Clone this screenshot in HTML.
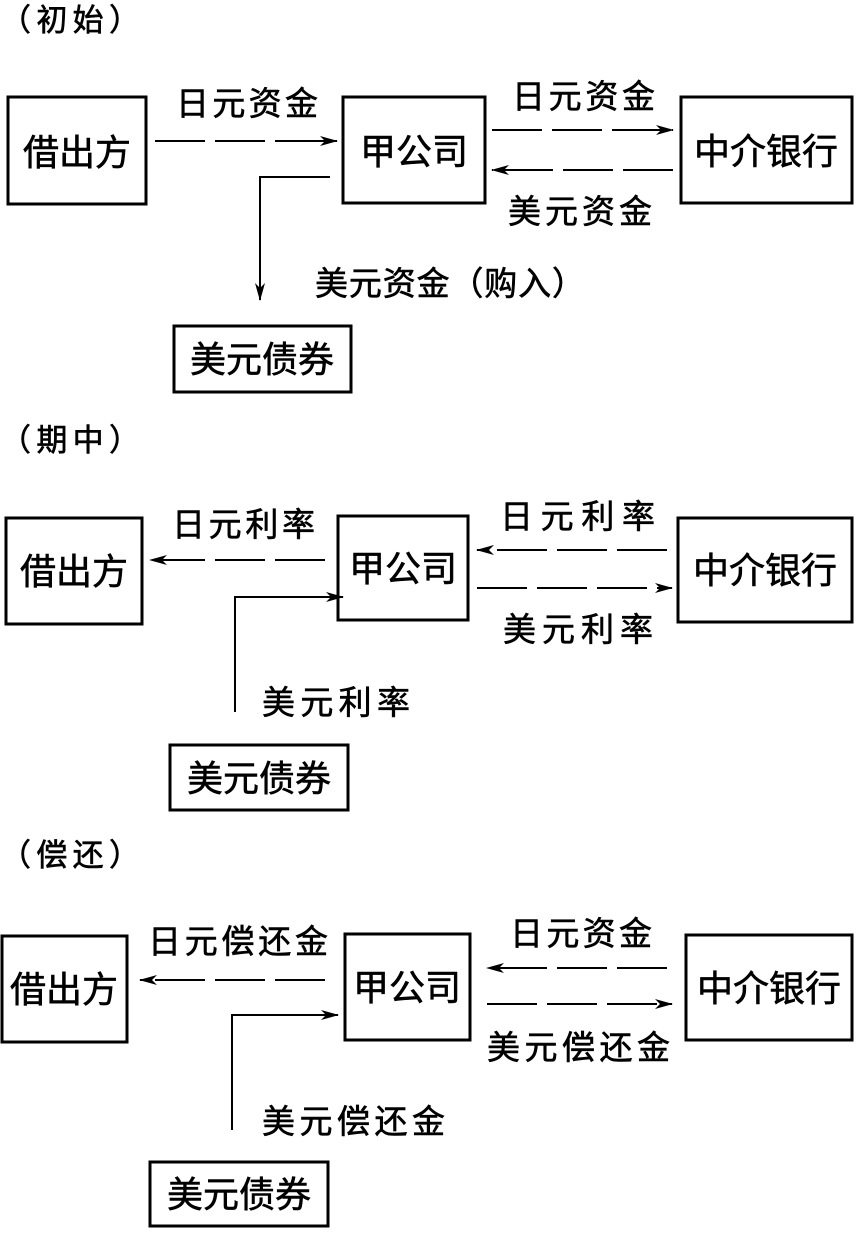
<!DOCTYPE html>
<html><head><meta charset="utf-8"><style>
html,body{margin:0;padding:0;background:#fff}
svg text{font-family:"Liberation Sans","Noto Sans CJK SC",sans-serif;fill:#000;stroke:#000;stroke-width:0.6}
</style></head><body>
<svg width="859" height="1231" viewBox="0 0 859 1231" xmlns="http://www.w3.org/2000/svg">
<defs><marker id="a" markerWidth="18" markerHeight="12" refX="17" refY="6" orient="auto" markerUnits="userSpaceOnUse"><path d="M0,1 L18,6 L0,11 L5,6 Z" fill="#000"/></marker></defs>
<g fill="none" stroke="#000" stroke-width="3">
<rect x="8" y="97" width="138" height="107"/>
<rect x="343" y="97" width="142" height="106"/>
<rect x="681" y="97" width="171" height="106"/>
<rect x="174" y="326" width="177" height="66"/>
<rect x="6" y="518" width="136" height="106"/>
<rect x="338" y="516" width="130" height="104"/>
<rect x="678" y="518" width="174" height="104"/>
<rect x="170" y="745" width="178" height="65"/>
<rect x="2" y="936" width="125" height="106"/>
<rect x="345" y="934" width="125" height="106"/>
<rect x="686" y="935" width="166" height="105"/>
<rect x="150" y="1162" width="178" height="64"/>
</g>
<g fill="none" stroke="#000" stroke-width="2" stroke-dasharray="50,10">
<line x1="155" y1="141" x2="337" y2="141" marker-end="url(#a)"/>
<line x1="492" y1="130" x2="673" y2="130" marker-end="url(#a)"/>
<line x1="673" y1="170" x2="492" y2="170" marker-end="url(#a)"/>
<line x1="325" y1="560" x2="150" y2="560" marker-end="url(#a)"/>
<line x1="667" y1="550" x2="477" y2="550" marker-end="url(#a)"/>
<line x1="477" y1="588" x2="672" y2="588" marker-end="url(#a)"/>
<line x1="325" y1="980" x2="140" y2="980" marker-end="url(#a)"/>
<line x1="667" y1="968" x2="487" y2="968" marker-end="url(#a)"/>
<line x1="487" y1="1004" x2="672" y2="1004" marker-end="url(#a)"/>
</g>
<g fill="none" stroke="#000" stroke-width="2">
<polyline points="330,177 260,177 260,300" marker-end="url(#a)"/>
<polyline points="235,712 235,597 343,597" marker-end="url(#a)"/>
<polyline points="232,1130 232,1015 338,1015" marker-end="url(#a)"/>
</g>
<g font-size="31">
<text x="0" y="31" textLength="140">（初始）</text>
<text x="0" y="451" textLength="140">（期中）</text>
<text x="0" y="866" textLength="140">（偿还）</text>
</g>
<g font-size="36" text-anchor="middle">
<text x="77" y="165">借出方</text>
<text x="414" y="164">甲公司</text>
<text x="766" y="164">中介银行</text>
<text x="262" y="372">美元债券</text>
<text x="74" y="584">借出方</text>
<text x="403" y="581">甲公司</text>
<text x="765" y="583">中介银行</text>
<text x="259" y="791">美元债券</text>
<text x="64" y="1002">借出方</text>
<text x="407" y="1000">甲公司</text>
<text x="769" y="1001">中介银行</text>
<text x="239" y="1207">美元债券</text>
</g>
<g font-size="33">
<text x="176" y="115" textLength="142">日元资金</text>
<text x="512" y="108" textLength="143">日元资金</text>
<text x="508" y="223" textLength="144">美元资金</text>
<text x="315" y="295" textLength="270">美元资金（购入）</text>
<text x="172" y="536" textLength="143">日元利率</text>
<text x="500" y="528" textLength="155">日元利率</text>
<text x="503" y="641" textLength="150">美元利率</text>
<text x="262" y="714" textLength="148">美元利率</text>
<text x="148" y="953" textLength="180">日元偿还金</text>
<text x="510" y="945" textLength="142">日元资金</text>
<text x="487" y="1059" textLength="183">美元偿还金</text>
<text x="262" y="1133" textLength="183">美元偿还金</text>
</g>
</svg>
</body></html>
